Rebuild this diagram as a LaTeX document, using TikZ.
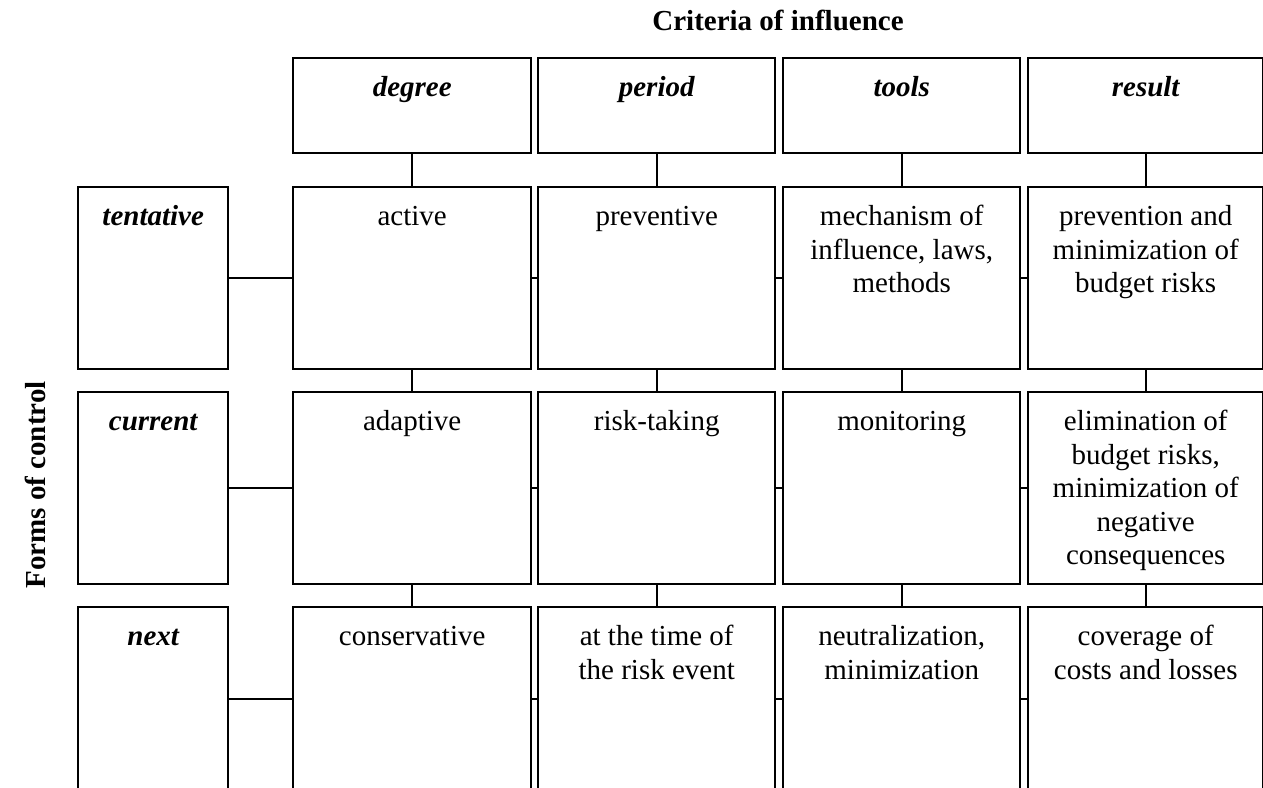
\documentclass[tikz,border=0pt]{standalone}
\usepackage{fontspec}
\setmainfont{Liberation Serif}
% #1 name, #2 x, #3 y (top left), #4 width, #5 height, #6 text style, #7 text
\newcommand\mkcell[7]{%
  \node[cell, minimum width=#4pt, minimum height=#5pt] (#1) at (#2,#3) {};
  \node[#6] (#1-t) at ([yshift=-16pt]#1.north) {\strut #7};}
\begin{document}
\begin{tikzpicture}[x=1pt,y=-1pt,
  cell/.style={draw, line width=2.4pt, inner sep=0pt, anchor=north west},
  txt/.style={anchor=north, inner sep=0pt, align=center,
    font=\fontsize{29}{33.5}\selectfont},
  hdr/.style={txt, font=\fontsize{29}{33.5}\selectfont\bfseries\itshape},
  link/.style={line width=2pt},
  axis/.style={inner sep=0pt, anchor=base,
    font=\fontsize{29}{33.5}\selectfont\bfseries}]
\useasboundingbox (0,0) rectangle (1263,787);

% axis titles
\node[axis] (crit) at (778,30) {Criteria of influence};
\node[axis, rotate=90] (forms) at (45,485) {Forms of control};

% criteria headers
\mkcell{hA}{292}{57}{238}{95}{hdr}{degree}
\mkcell{hB}{537}{57}{237}{95}{hdr}{period}
\mkcell{hC}{782}{57}{237}{95}{hdr}{tools}
\mkcell{hD}{1027}{57}{235}{95}{hdr}{result}

% forms of control
\mkcell{f1}{77}{186}{150}{182}{hdr}{tentative}
\mkcell{f2}{77}{391}{150}{192}{hdr}{current}
\mkcell{f3}{77}{606}{150}{184}{hdr}{next}

% row: tentative
\mkcell{a1}{292}{186}{238}{182}{txt}{active}
\mkcell{b1}{537}{186}{237}{182}{txt}{preventive}
\mkcell{c1}{782}{186}{237}{182}{txt}{mechanism of\\influence, laws,\\methods}
\mkcell{d1}{1027}{186}{235}{182}{txt}{prevention and\\minimization of\\budget risks}

% row: current
\mkcell{a2}{292}{391}{238}{192}{txt}{adaptive}
\mkcell{b2}{537}{391}{237}{192}{txt}{risk-taking}
\mkcell{c2}{782}{391}{237}{192}{txt}{monitoring}
\mkcell{d2}{1027}{391}{235}{192}{txt}{elimination of\\budget risks,\\minimization of\\negative\\consequences}

% row: next
\mkcell{a3}{292}{606}{238}{184}{txt}{conservative}
\mkcell{b3}{537}{606}{237}{184}{txt}{at the time of\\the risk event}
\mkcell{c3}{782}{606}{237}{184}{txt}{neutralization,\\minimization}
\mkcell{d3}{1027}{606}{235}{184}{txt}{coverage of\\costs and losses}

% vertical links down each criterion column
\foreach \col/\hd in {a/hA, b/hB, c/hC, d/hD} {
  \draw[link] (\hd.south) -- (\col1.north);
  \draw[link] (\col1.south) -- (\col2.north);
  \draw[link] (\col2.south) -- (\col3.north);
}
% horizontal links along each form row
\foreach \r in {1,2,3} {
  \draw[link] (f\r.east) -- (a\r.west);
  \draw[link] (a\r.east) -- (b\r.west);
  \draw[link] (b\r.east) -- (c\r.west);
  \draw[link] (c\r.east) -- (d\r.west);
}
\end{tikzpicture}
\end{document}
